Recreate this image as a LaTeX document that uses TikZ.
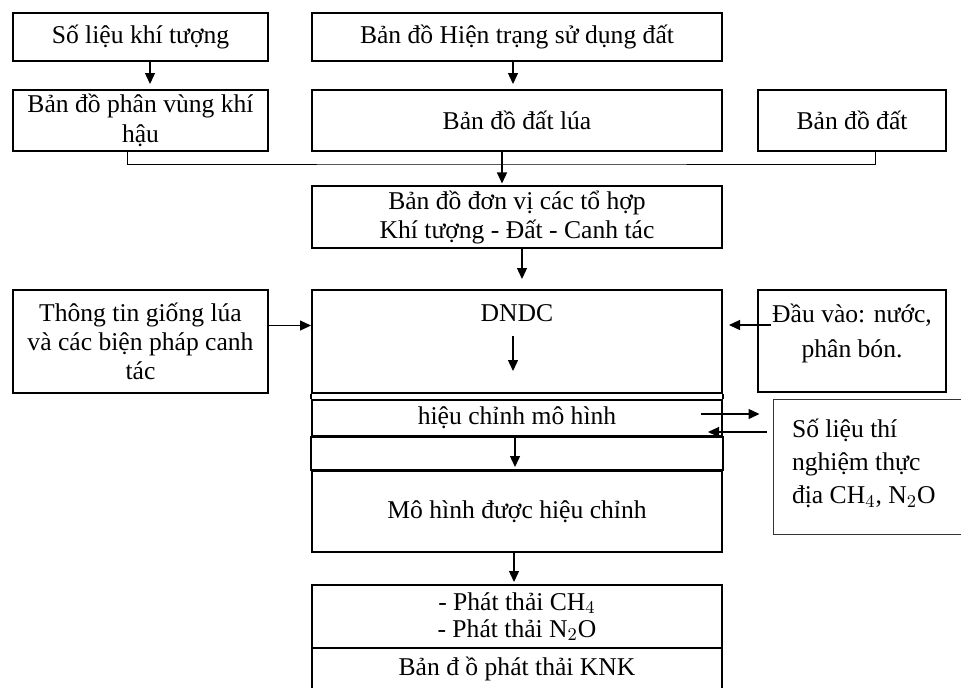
\documentclass[tikz,border=0pt]{standalone}
\usepackage{fontspec}
\setmainfont{Liberation Serif}
\usetikzlibrary{arrows.meta,positioning,calc}

\begin{document}
\begin{tikzpicture}[x=0.5pt, y=-0.5pt,
  box/.style={rectangle, draw=black, line width=1pt, inner sep=2pt,
              font=\fontsize{12.8}{14.5}\selectfont, align=center},
  wbox/.style={box, minimum width=205pt},
  lbox/.style={box, minimum width=127.5pt},
  rbox/.style={box, minimum width=94pt},
  arr/.style={-{Triangle[length=5.5pt,width=5pt]}, line width=0.65pt},
  link/.style={line width=0.5pt}
]
\useasboundingbox (0,0) rectangle (961,687);

% Input maps
\node[lbox, minimum height=24pt]   (met)  at (140.5, 37)    {Số liệu khí tượng};
\node[lbox, minimum height=30.5pt] (clim) at (140.5,120.5)  {Bản đồ phân vùng khí\\[0.5pt]hậu};
\node[wbox, minimum height=24pt]   (lu)   at (517, 37)      {Bản đồ Hiện trạng sử dụng đất};
\node[wbox, minimum height=30.5pt] (rice) at (517,120.5)    {Bản đồ đất lúa};
\node[rbox, minimum height=30.5pt] (soil) at (852,120.5)    {Bản đồ đất};
\node[wbox, minimum height=30pt]   (unit) at (517,217)      {Bản đồ đơn vị các tổ hợp\\Khí tượng - Đất - Canh tác};

% Model column
\node[wbox, minimum height=51.5pt] (dndc) at (517,341.5) {};
\node[font=\fontsize{12.8}{14.5}\selectfont, inner sep=0pt] (dndclbl) at (517,313) {DNDC};
\node[wbox, minimum height=18pt]   (calib) at (517,418)   {hiệu chỉnh mô hình};
\node[wbox, minimum height=40.5pt] (tuned) at (517,511.5) {Mô hình được hiệu chỉnh};
\node[wbox, minimum height=31.5pt] (emis)  at (517,616.5) {- Phát thải CH$_4$\\[-1pt]- Phát thải N$_2$O};
\node[wbox, minimum height=21pt]   (knk)   at (517,669)   {Bản đ ồ phát thải KNK};

% Side boxes
\node[lbox, minimum height=51.5pt] (info)  at (140.5,341.5) {Thông tin giống lúa\\và các biện pháp canh\\tác};
\node[rbox, minimum height=51pt]   (input) at (852,341)     {Đầu vào: nước,\\[3pt]phân bón.\\[-4pt]\mbox{}};
\node[box, line width=0.5pt, draw=black!80, minimum width=110pt, minimum height=67.5pt,
      text width=91pt, align=flush left] (field) at (883,466.5)
  {Số liệu thí\\[2pt]nghiệm thực\\[2pt]địa CH$_4$, N$_2$O\\[-9.5pt]\mbox{}};

% Frame pieces between rows
\draw[line width=1pt] (dndc.south west) -- (calib.north west);
\draw[line width=1pt] (dndc.south east) -- (calib.north east);
\draw[line width=1pt] (calib.south west) rectangle (tuned.north east);

% Arrows
\coordinate (join) at (502,164);
\draw[arr, shorten >=2.5pt] ([xshift=4.75pt]met.south) -- ([xshift=4.75pt]clim.north);
\draw[arr, shorten >=2.5pt] ([xshift=-2pt]lu.south) -- ([xshift=-2pt]rice.north);
\draw[link] ([xshift=-6.75pt]clim.south) |- (join) -| ([xshift=11.5pt]soil.south);
\draw[arr, shorten >=1pt] (join |- rice.south) -- (join |- unit.north);
\draw[arr, shorten >=5pt] ([xshift=2.5pt]unit.south) -- ([xshift=2.5pt]dndc.north);
\draw[arr, shorten <=7pt, shorten >=11.5pt] ([xshift=-2pt]dndclbl.south) -- ([xshift=-2pt]dndclbl.south |- dndc.south);
\draw[arr, shorten >=1.5pt] ([xshift=-1pt]calib.south) -- ([xshift=-1pt]tuned.north);
\draw[arr, shorten >=1pt] ([xshift=-1.5pt]tuned.south) -- ([xshift=-1.5pt]emis.north);
\draw[arr] ([yshift=8pt]info.east) -- ([yshift=8pt]info.east -| dndc.west);
\draw[arr, shorten >=3pt] ([xshift=7pt,yshift=8pt]input.west) -- ([yshift=8pt]input.west -| dndc.east);
\draw[arr, shorten >=6.5pt] ([xshift=-11pt,yshift=2pt]calib.east) -- ([yshift=2pt]calib.east -| field.west);
\draw[arr, shorten <=3pt] ([yshift=-7pt]calib.east -| field.west) -- ([xshift=-7.5pt,yshift=-7pt]calib.east);
\end{tikzpicture}
\end{document}
